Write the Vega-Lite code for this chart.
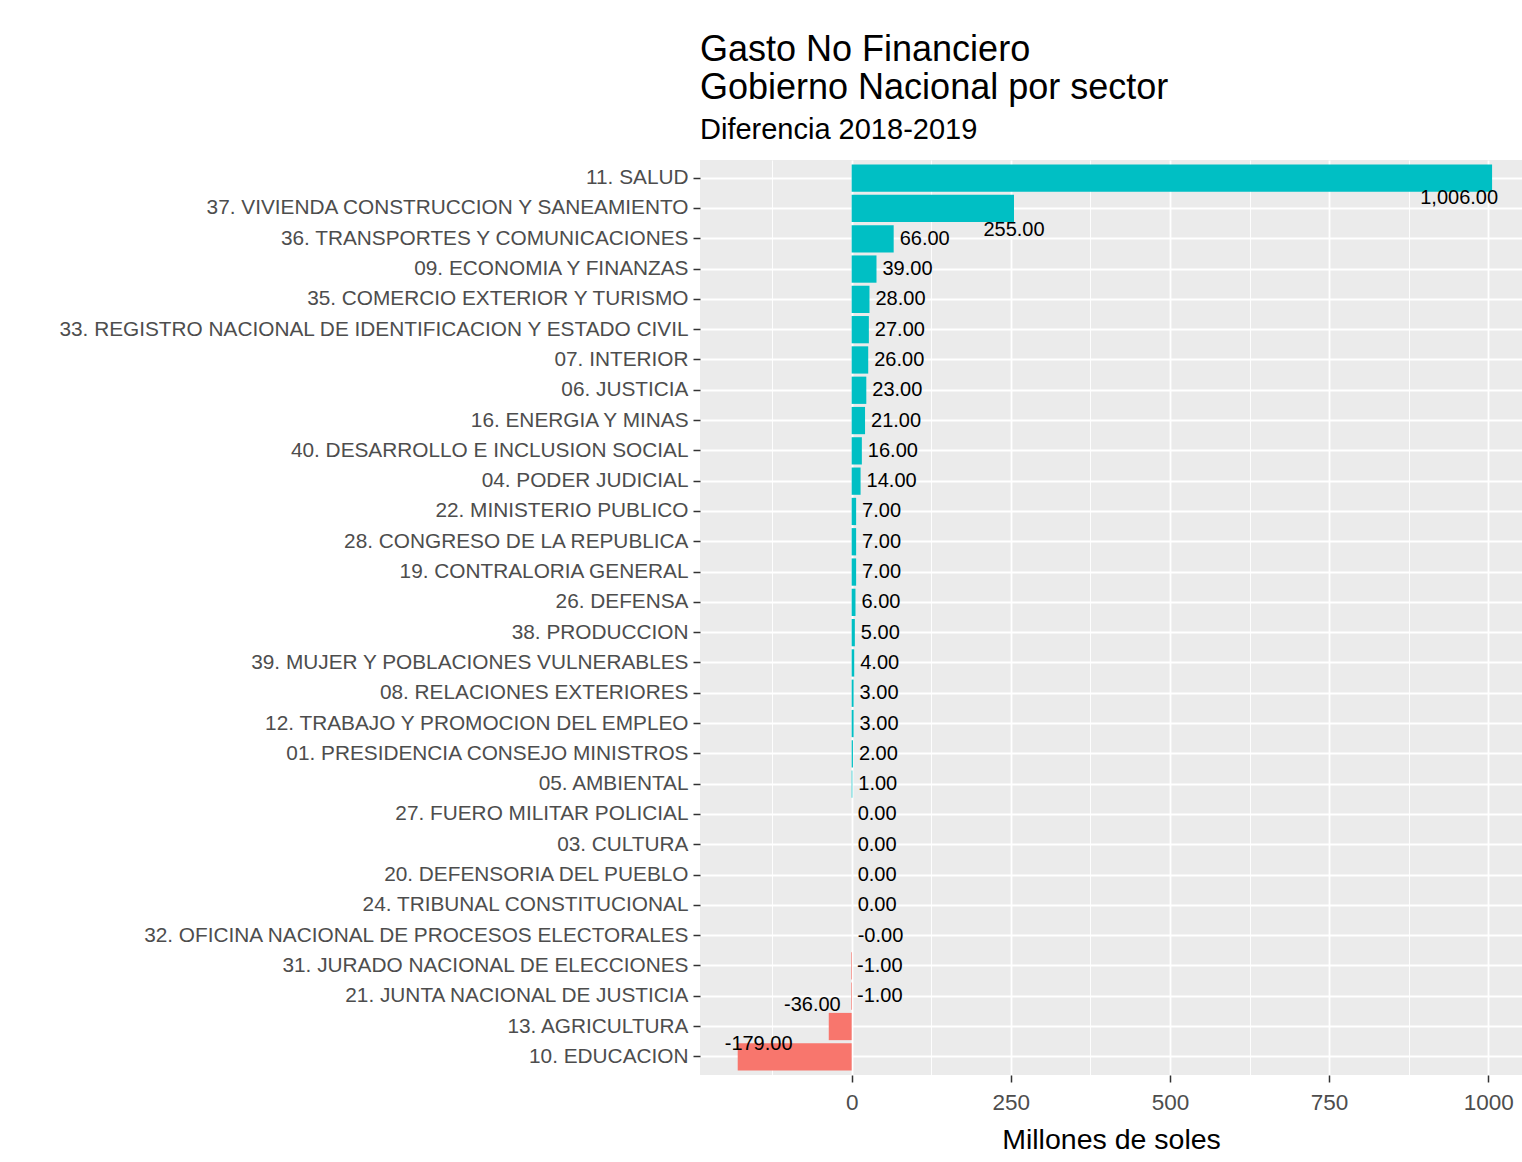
{
  "$schema": "https://vega.github.io/schema/vega-lite/v6.json",
  "width": 822,
  "height": 915,
  "autosize": "none",
  "padding": {"left": 700, "top": 160, "right": 0, "bottom": 87},
  "background": "white",
  "title": {
    "text": ["Gasto No Financiero", "Gobierno Nacional por sector"],
    "subtitle": "Diferencia 2018-2019",
    "anchor": "start",
    "frame": "group",
    "font": "Liberation Sans",
    "fontSize": 36,
    "fontWeight": "normal",
    "lineHeight": 38,
    "color": "black",
    "subtitleFont": "Liberation Sans",
    "subtitleFontSize": 29,
    "subtitleColor": "black",
    "subtitlePadding": 9,
    "offset": 14
  },
  "config": {
    "view": {"fill": "#EBEBEB", "stroke": null},
    "font": "Liberation Sans"
  },
  "data": {
    "values": [
      {"sector": "11. SALUD", "valor": 1006, "etiqueta": "1,006.00"},
      {"sector": "37. VIVIENDA CONSTRUCCION Y SANEAMIENTO", "valor": 255, "etiqueta": "255.00"},
      {"sector": "36. TRANSPORTES Y COMUNICACIONES", "valor": 66, "etiqueta": "66.00"},
      {"sector": "09. ECONOMIA Y FINANZAS", "valor": 39, "etiqueta": "39.00"},
      {"sector": "35. COMERCIO EXTERIOR Y TURISMO", "valor": 28, "etiqueta": "28.00"},
      {"sector": "33. REGISTRO NACIONAL DE IDENTIFICACION Y ESTADO CIVIL", "valor": 27, "etiqueta": "27.00"},
      {"sector": "07. INTERIOR", "valor": 26, "etiqueta": "26.00"},
      {"sector": "06. JUSTICIA", "valor": 23, "etiqueta": "23.00"},
      {"sector": "16. ENERGIA Y MINAS", "valor": 21, "etiqueta": "21.00"},
      {"sector": "40. DESARROLLO E INCLUSION SOCIAL", "valor": 16, "etiqueta": "16.00"},
      {"sector": "04. PODER JUDICIAL", "valor": 14, "etiqueta": "14.00"},
      {"sector": "22. MINISTERIO PUBLICO", "valor": 7, "etiqueta": "7.00"},
      {"sector": "28. CONGRESO DE LA REPUBLICA", "valor": 7, "etiqueta": "7.00"},
      {"sector": "19. CONTRALORIA GENERAL", "valor": 7, "etiqueta": "7.00"},
      {"sector": "26. DEFENSA", "valor": 6, "etiqueta": "6.00"},
      {"sector": "38. PRODUCCION", "valor": 5, "etiqueta": "5.00"},
      {"sector": "39. MUJER Y POBLACIONES VULNERABLES", "valor": 4, "etiqueta": "4.00"},
      {"sector": "08. RELACIONES EXTERIORES", "valor": 3, "etiqueta": "3.00"},
      {"sector": "12. TRABAJO Y PROMOCION DEL EMPLEO", "valor": 3, "etiqueta": "3.00"},
      {"sector": "01. PRESIDENCIA CONSEJO MINISTROS", "valor": 2, "etiqueta": "2.00"},
      {"sector": "05. AMBIENTAL", "valor": 1, "etiqueta": "1.00"},
      {"sector": "27. FUERO MILITAR POLICIAL", "valor": 0, "etiqueta": "0.00"},
      {"sector": "03. CULTURA", "valor": 0, "etiqueta": "0.00"},
      {"sector": "20. DEFENSORIA DEL PUEBLO", "valor": 0, "etiqueta": "0.00"},
      {"sector": "24. TRIBUNAL CONSTITUCIONAL", "valor": 0, "etiqueta": "0.00"},
      {"sector": "32. OFICINA NACIONAL DE PROCESOS ELECTORALES", "valor": -0.004, "etiqueta": "-0.00"},
      {"sector": "31. JURADO NACIONAL DE ELECCIONES", "valor": -1, "etiqueta": "-1.00"},
      {"sector": "21. JUNTA NACIONAL DE JUSTICIA", "valor": -1, "etiqueta": "-1.00"},
      {"sector": "13. AGRICULTURA", "valor": -36, "etiqueta": "-36.00"},
      {"sector": "10. EDUCACION", "valor": -179, "etiqueta": "-179.00"}
    ]
  },
  "resolve": {"axis": {"x": "independent"}},
  "layer": [
    {
      "mark": {"type": "bar"},
      "encoding": {
        "y": {
          "field": "sector",
          "type": "nominal",
          "sort": null,
          "scale": {"paddingInner": 0.1, "paddingOuter": 0.15},
          "axis": {
            "title": null,
            "domain": false,
            "grid": true,
            "gridColor": "white",
            "gridWidth": 1.8,
            "bandPosition": 0.5,
            "tickColor": "#333333",
            "tickSize": 7,
            "tickWidth": 1.5,
            "labelFontSize": 20.8,
            "labelColor": "#4D4D4D",
            "labelPadding": 5,
            "labelLimit": 0
          }
        },
        "x": {
          "field": "valor",
          "type": "quantitative",
          "scale": {"domain": [-238.25, 1053], "nice": false, "zero": false},
          "axis": {
            "values": [0, 250, 500, 750, 1000],
            "format": "d",
            "title": "Millones de soles",
            "titleFontSize": 28.5,
            "titleFontWeight": "normal",
            "titleColor": "black",
            "titlePadding": 12,
            "domain": false,
            "grid": true,
            "gridColor": "white",
            "gridWidth": 1.8,
            "tickColor": "#333333",
            "tickSize": 7,
            "tickWidth": 1.5,
            "labelFontSize": 22.5,
            "labelColor": "#4D4D4D",
            "labelPadding": 9
          }
        },
        "color": {
          "condition": {"test": "datum.valor < 0", "value": "#F8766D"},
          "value": "#00BFC4"
        }
      }
    },
    {
      "mark": {"type": "point", "opacity": 0},
      "encoding": {
        "y": {"field": "sector", "type": "nominal", "sort": null},
        "x": {
          "field": "valor",
          "type": "quantitative",
          "axis": {
            "values": [-125, 125, 375, 625, 875],
            "grid": true,
            "gridColor": "white",
            "gridWidth": 0.9,
            "ticks": false,
            "labels": false,
            "domain": false,
            "title": null
          }
        }
      }
    },
    {
      "transform": [{"filter": "datum.valor >= 500"}],
      "mark": {"type": "text", "align": "right", "baseline": "top", "dx": 6, "dy": 10, "fontSize": 20, "color": "black"},
      "encoding": {
        "y": {"field": "sector", "type": "nominal", "sort": null},
        "x": {"field": "valor", "type": "quantitative", "axis": null},
        "text": {"field": "etiqueta", "type": "nominal"}
      }
    },
    {
      "transform": [{"filter": "datum.valor >= 100 && datum.valor < 500"}],
      "mark": {"type": "text", "align": "center", "baseline": "top", "dy": 12, "fontSize": 20, "color": "black"},
      "encoding": {
        "y": {"field": "sector", "type": "nominal", "sort": null},
        "x": {"field": "valor", "type": "quantitative", "axis": null},
        "text": {"field": "etiqueta", "type": "nominal"}
      }
    },
    {
      "transform": [{"filter": "datum.valor > -10 && datum.valor < 100"}],
      "mark": {"type": "text", "align": "left", "baseline": "middle", "dx": 6, "fontSize": 20, "color": "black"},
      "encoding": {
        "y": {"field": "sector", "type": "nominal", "sort": null},
        "x": {"field": "valor", "type": "quantitative", "axis": null},
        "text": {"field": "etiqueta", "type": "nominal"}
      }
    },
    {
      "transform": [{"filter": "datum.valor <= -10 && datum.valor > -100"}],
      "mark": {"type": "text", "align": "right", "baseline": "alphabetic", "dx": 12, "dy": -16, "fontSize": 20, "color": "black"},
      "encoding": {
        "y": {"field": "sector", "type": "nominal", "sort": null},
        "x": {"field": "valor", "type": "quantitative", "axis": null},
        "text": {"field": "etiqueta", "type": "nominal"}
      }
    },
    {
      "transform": [{"filter": "datum.valor <= -100"}],
      "mark": {"type": "text", "align": "left", "baseline": "alphabetic", "dx": -13, "dy": -7, "fontSize": 20, "color": "black"},
      "encoding": {
        "y": {"field": "sector", "type": "nominal", "sort": null},
        "x": {"field": "valor", "type": "quantitative", "axis": null},
        "text": {"field": "etiqueta", "type": "nominal"}
      }
    }
  ]
}
